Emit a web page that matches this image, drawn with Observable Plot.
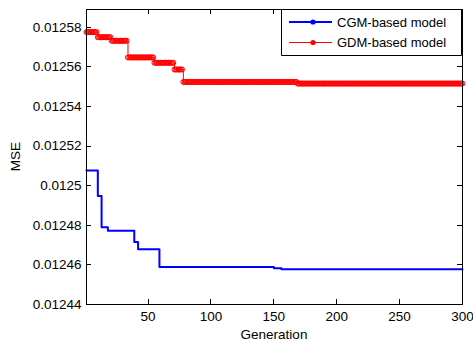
<!DOCTYPE html>
<html>
<head>
<meta charset="utf-8">
<script src="https://cdn.jsdelivr.net/npm/d3@7"></script>
<script src="https://cdn.jsdelivr.net/npm/@observablehq/plot@0.6"></script>
<style>
  html, body { margin: 0; padding: 0; background: #fff; }
  #chart svg { display: block; font-family: "Liberation Sans", Arial, sans-serif; }
</style>
</head>
<body>
<div id="chart"></div>
<script>
// Step levels (generation where each level starts, MSE value)
const cgmStart = [1, 10, 13, 18, 39, 42, 59, 150, 156];
const cgmMSE   = [0.0125077, 0.0124948, 0.012479, 0.0124773, 0.0124716, 0.0124679, 0.012459, 0.0124583, 0.0124578];
const gdmStart = [1, 10, 21, 34, 55, 71, 78, 169];
const gdmMSE   = [0.0125776, 0.012575, 0.0125732, 0.0125648, 0.0125621, 0.0125587, 0.0125524, 0.0125516];
const lastGen = 300;

const xTicks = [50, 100, 150, 200, 250, 300];
const yTicks = [0.01244, 0.01246, 0.01248, 0.0125, 0.01252, 0.01254, 0.01256, 0.01258];
const legendLabels = ["CGM-based model", "GDM-based model"];

// Per-generation records (value held between level changes)
function expand(starts, vals) {
  const out = [];
  for (let g = 1; g <= lastGen; g++) {
    let v = vals[0];
    for (let i = 0; i < starts.length; i++) if (g >= starts[i]) v = vals[i];
    out.push({gen: g, mse: v});
  }
  return out;
}
const cgm = expand(cgmStart, cgmMSE);
const gdm = expand(gdmStart, gdmMSE);

const W = 473, H = 345;
const fmt = d => String(+d.toFixed(5));

const chart = Plot.plot({
  width: W, height: H,
  marginLeft: 86, marginRight: 11, marginTop: 9, marginBottom: 41,
  style: {fontSize: "13.5px", fontFamily: "Liberation Sans, Arial, sans-serif", background: "#fff", color: "#000"},
  x: {domain: [1, 300], ticks: xTicks, tickFormat: d => String(d)},
  y: {domain: [0.01244, 0.012589], ticks: yTicks, tickFormat: fmt},
  marks: [
    Plot.axisX({ticks: xTicks, tickSize: 0, tickPadding: 7, label: null, tickFormat: d => String(d)}),
    Plot.axisY({ticks: yTicks, tickSize: 0, tickPadding: 5, label: null, tickFormat: fmt}),
    Plot.line(gdm, {x: "gen", y: "mse", stroke: "#ff0000", strokeWidth: 1, curve: "step-after"}),
    Plot.dot(gdm, {x: "gen", y: "mse", r: 2.5, stroke: "#ff0000", fill: "none", strokeWidth: 1}),
    Plot.line(cgm, {x: "gen", y: "mse", stroke: "#0000ff", strokeWidth: 2, curve: "step-after"}),
    Plot.frame({stroke: "#000", strokeWidth: 1})
  ]
});
document.getElementById("chart").appendChild(chart);

const sx = chart.scale("x"), sy = chart.scale("y");
const x0 = Math.min(...sx.range), x1 = Math.max(...sx.range);
const yt = Math.min(...sy.range), yb = Math.max(...sy.range);
const svg = d3.select(chart);
const tl = 5;
const g = svg.append("g").attr("stroke", "#000").attr("stroke-width", 1);
xTicks.forEach(t => {
  const px = Math.round(sx.apply(t)) + 0.5;
  g.append("line").attr("x1", px).attr("x2", px).attr("y1", yb).attr("y2", yb - tl);
  g.append("line").attr("x1", px).attr("x2", px).attr("y1", yt).attr("y2", yt + tl);
});
yTicks.forEach(t => {
  const py = Math.round(sy.apply(t)) + 0.5;
  g.append("line").attr("x1", x0).attr("x2", x0 + tl).attr("y1", py).attr("y2", py);
  g.append("line").attr("x1", x1).attr("x2", x1 - tl).attr("y1", py).attr("y2", py);
});

// Axis titles
svg.append("text").attr("x", (x0 + x1) / 2).attr("y", 339).attr("text-anchor", "middle")
  .attr("font-size", "13.5px").attr("fill", "#000").text("Generation");
svg.append("text").attr("transform", `translate(20,${(yb + yt) / 2}) rotate(-90)`).attr("text-anchor", "middle")
  .attr("font-size", "13.5px").attr("fill", "#000").text("MSE");

// Legend
const lx = 281, ly = yt, lw = x1 - 281, lh = 46;
const lg = svg.append("g").attr("text-anchor", "start");
lg.append("path")
  .attr("d", `M${lx + 0.5},${ly + 0.5}H${lx + lw - 0.5}V${ly + lh + 0.5}H${lx + 0.5}Z`)
  .attr("fill", "#ffffff").attr("stroke", "#000000").attr("stroke-width", 1);
const entries = [
  {label: legendLabels[0], color: "#0000ff", sw: 2, y: ly + 13},
  {label: legendLabels[1], color: "#ff0000", sw: 1, y: ly + 33.5}
];
entries.forEach(e => {
  lg.append("line").attr("x1", lx + 8).attr("x2", lx + 51).attr("y1", e.y).attr("y2", e.y)
    .attr("stroke", e.color).attr("stroke-width", e.sw);
  lg.append("circle").attr("cx", lx + 32).attr("cy", e.y).attr("r", 2.6).attr("fill", e.color);
  lg.append("text").attr("x", lx + 56).attr("y", e.y + 4.5).attr("text-anchor", "start")
    .attr("font-size", "13px").attr("fill", "#000").text(e.label);
});
</script>
</body>
</html>
